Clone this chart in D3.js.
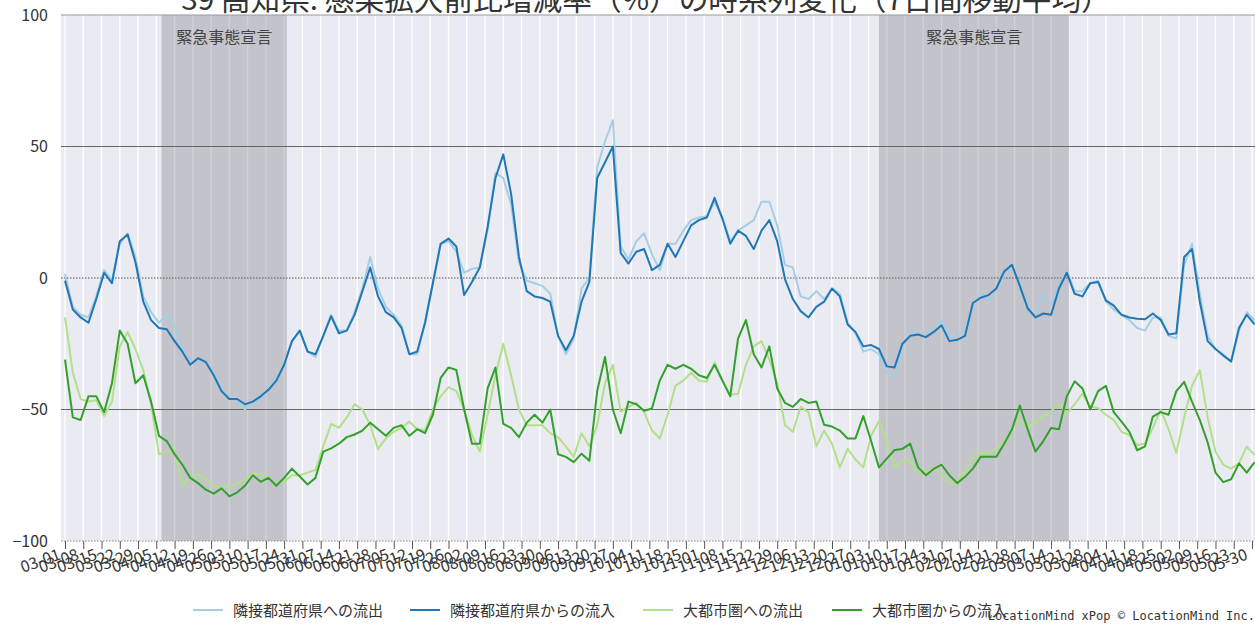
<!DOCTYPE html>
<html><head><meta charset="utf-8">
<script src="https://cdn.jsdelivr.net/npm/d3@7"></script>
<style>
body{margin:0;background:#fff;overflow:hidden}
svg{display:block;font-family:"Noto Sans CJK JP","Noto Sans",sans-serif}
</style>
</head><body>
<svg id="chart" width="1255" height="630"></svg>
<script>
// ---------------- data ----------------
const titleText = "39 高知県: 感染拡大前比増減率（%）の時系列変化（7日間移動平均）";
const firstDay = "2020-03-01";   // first sample, samples every 3 days
const sampleStepDays = 3;
const axisStart = "2020-03-01", axisEnd = "2021-05-30";
const yTicks = [100, 50, 0, -50, -100];
const emergencyStart = ["2020-04-07", "2021-01-07"];
const emergencyEnd = ["2020-05-25", "2021-03-21"];
const emergencyLabel = "緊急事態宣言";
const seriesNames = ["隣接都道府県への流出", "隣接都道府県からの流入", "大都市圏への流出", "大都市圏からの流入"];

const outToNeighbor = [1.5,-11,-14,-15,-7,3,-1,13,17,8,-7,-13,-17,-14,-18,-27,-32,-31,-32,-36,-42,-46,-46.5,-50,-47,-46,-41,-38,-33,-24,-20,-28,-30,-22,-14,-20,-20,-13,-4,8,-4,-11,-14,-18,-29,-29,-17,-2,13,14,10,2,3.5,4,18,40,38,28,6,-1,-2,-3,-6,-22,-29,-23,-4,0,42,52,60,12,7,14,17,9,3,13,13,18,22,23,23.5,29,23,14,18,20,22,29,29,20,5,4,-7,-8,-5,-8,-4,-6,-17,-21,-28,-27,-29,-36,-38,-26,-21,-20,-21,-19,-16,-22,-22,-19,-11,-6,-9,-4,1,4,-2,-13,-13,-6,-10,-3,3,-5,-5,-2,-1,-9,-12,-14,-16,-19,-20,-15,-15,-22,-23,5,13,-6,-22,-27,-29,-32,-20,-13,-16];
const inFromNeighbor = [-1,-12,-15,-17,-8,2,-2,14,16.5,6,-9,-16,-19,-19.5,-24,-28,-33,-30.5,-32,-37,-43,-46,-46,-48,-47,-45,-42.5,-39,-33,-24,-20,-28,-29,-22,-14.5,-21,-20,-14,-5,4,-7,-13,-15,-19,-29,-28,-17,-2,13,15,12,-6.5,-1.5,4,19.5,38,47,32,8,-5,-7,-7.6,-9,-22,-27.5,-22,-9,-1.5,38,44,50,9.5,5.5,10,11,3,5,13,8,14,20,22,23,30.5,22.5,13,18,16,11,18,22,14,-0.5,-8,-12.6,-15,-11,-9,-4,-7,-17.7,-20.5,-26,-25.5,-27,-33.6,-34,-25,-22,-21.5,-22.5,-20.5,-18,-24,-23.5,-22,-9.5,-7.5,-6.5,-4,2.5,5,-3,-11.5,-15,-13.5,-14,-4,2,-6,-7,-2,-1.5,-8.5,-10.5,-14,-15,-15.5,-15.7,-13.5,-16,-21.5,-21,8,11,-9,-24,-27,-29.5,-31.7,-19,-14,-17.6];
const outToMetro = [-15,-36,-46,-47,-46.5,-52.5,-47,-26,-20.5,-27,-35,-48,-67,-66,-66,-79,-76,-74.5,-76.5,-79,-79.4,-79.4,-78,-76.5,-74.5,-74.5,-76.5,-78,-77.5,-75,-75,-74,-73,-64,-55.5,-57,-53,-48,-50,-56,-65,-61,-58.5,-57,-54.6,-57.5,-58,-50,-45,-41.5,-43,-50,-59.7,-66,-52,-37,-25,-37,-50,-56,-56,-56,-59,-60.5,-64,-68,-59,-64,-56,-40,-33,-50.8,-49,-47.5,-51,-58,-61,-52,-41,-39,-36,-39,-39.5,-32,-39,-44.5,-44,-33,-26,-24,-31,-40,-56,-58.5,-49,-51,-64,-58,-63,-72,-65,-69,-72,-60,-54.5,-62,-72,-69.5,-69.5,-74,-74,-72.5,-74.7,-78,-77.5,-73.5,-68,-66.5,-66.7,-64.8,-62.5,-57,-54,-57,-55,-52.7,-50.5,-48,-51.5,-48,-44,-48.8,-49.5,-52,-54,-58.5,-59.7,-63.5,-63,-57,-50,-57.5,-66.5,-53,-41,-35,-53,-66,-71,-72.5,-70.5,-64,-67.3];
const inFromMetro = [-31,-53,-54,-45,-45,-51,-40,-20,-25,-40,-37,-47,-60,-62,-67,-71,-76,-78,-80.5,-82,-80,-83,-81.5,-79,-75,-77.5,-76,-79,-76,-72.5,-75.5,-78.5,-76,-66,-64.8,-63,-60.5,-59.5,-58,-55,-57.5,-60,-57,-56,-60,-57.5,-59,-52,-38,-34,-35,-50,-63,-63,-42,-34,-55.5,-57,-60.5,-55,-52,-55,-50,-67,-68,-70,-66.8,-69.5,-43,-30,-50,-59,-47,-48,-50.5,-49.6,-39,-33,-34.5,-33,-34.5,-37,-38,-33,-39,-45,-23,-16,-29,-34,-26,-42,-47.5,-49,-46,-47.5,-47,-55.8,-56.5,-58,-61,-61,-52.5,-62,-72,-68.7,-65.4,-65,-63,-72,-75,-72.6,-71,-75,-78,-75.6,-72.5,-68,-68,-68,-63,-57.5,-48.5,-57.5,-66,-62,-57,-57.5,-45,-39.3,-42,-50,-43,-41,-51,-54.6,-58.5,-65.5,-64,-52.7,-51,-52,-43,-39.5,-47,-54,-62.5,-74,-77.6,-76.5,-70.5,-74,-70];
const seriesValues = [outToNeighbor, inFromNeighbor, outToMetro, inFromMetro];
const seriesColors = ["#a6cee3", "#1f78b4", "#b2df8a", "#33a02c"];
const attribution = "LocationMind xPop © LocationMind Inc.";

// ---------------- chart ----------------
const parse = d3.timeParse("%Y-%m-%d");
const svg = d3.select("#chart");
const t0 = parse(firstDay);
const dates = seriesValues[0].map((_, i) => d3.timeDay.offset(t0, i * sampleStepDays));

const x = d3.scaleTime().domain([parse(axisStart), parse(axisEnd)]).range([65, 1252]);
const y = d3.scaleLinear().domain([-100, 100]).range([541, 15]);

const plotL = 61, plotR = 1262;
svg.append("rect").attr("x", plotL).attr("y", y(100)).attr("width", plotR - plotL)
  .attr("height", y(-100) - y(100)).attr("fill", "#eaeaf2");

const weekTicks = d3.timeDay.range(parse(axisStart), d3.timeDay.offset(parse(axisEnd), 1), 7);

svg.append("g").selectAll("line").data(weekTicks).join("line")
  .attr("x1", d => x(d)).attr("x2", d => x(d))
  .attr("y1", y(100)).attr("y2", y(-100))
  .attr("stroke", "#fff").attr("stroke-width", 1.3);

const bands = svg.append("g");
emergencyStart.forEach((s, i) => {
  const a = x(parse(s)), b = x(parse(emergencyEnd[i]));
  bands.append("rect").attr("x", a).attr("y", y(100)).attr("width", b - a)
    .attr("height", y(-100) - y(100)).attr("fill", "rgb(128,128,136)").attr("fill-opacity", 0.36);
  bands.append("text").attr("x", (a + b) / 2).attr("y", 43).attr("text-anchor", "middle")
    .attr("font-size", 16).attr("fill", "#444").text(emergencyLabel);
});

const hl = svg.append("g");
hl.append("line").attr("x1", plotL).attr("x2", plotR).attr("y1", y(100)).attr("y2", y(100))
  .attr("stroke", "#999").attr("stroke-width", 1);
[50, -50].forEach(v => hl.append("line").attr("x1", plotL).attr("x2", plotR)
  .attr("y1", y(v)).attr("y2", y(v)).attr("stroke", "#666").attr("stroke-width", 1.2));
hl.append("line").attr("x1", plotL).attr("x2", plotR).attr("y1", y(0)).attr("y2", y(0))
  .attr("stroke", "#555").attr("stroke-width", 1).attr("stroke-dasharray", "1.5,1.5");
hl.append("line").attr("x1", plotL).attr("x2", plotR).attr("y1", y(-100)).attr("y2", y(-100))
  .attr("stroke", "#888").attr("stroke-width", 1).attr("stroke-dasharray", "1.5,1.5");

const line = d3.line().x((d, i) => x(dates[i])).y(d => y(d));
seriesValues.forEach((vals, k) => {
  svg.append("path").datum(vals).attr("d", line).attr("fill", "none")
    .attr("stroke", seriesColors[k]).attr("stroke-width", 2).attr("stroke-linejoin", "round");
});

const fmt = d3.format("d");
svg.append("g").selectAll("text").data(yTicks).join("text")
  .attr("x", 48).attr("y", d => y(d)).attr("dy", "0.35em").attr("text-anchor", "end")
  .attr("font-size", 16).attr("fill", "#333").text(d => fmt(d));

const xAxis = d3.axisBottom(x).tickValues(weekTicks).tickFormat(d3.timeFormat("%m-%d"))
  .tickSize(8).tickPadding(2);
const gx = svg.append("g").attr("transform", `translate(0,${y(-100)})`).call(xAxis);
gx.select(".domain").remove();
gx.selectAll(".tick line").attr("stroke", "#555");
gx.selectAll(".tick text").attr("font-size", 16).attr("fill", "#333")
  .attr("font-family", "'Noto Sans CJK JP',sans-serif")
  .attr("text-anchor", "end").attr("x", 0).attr("y", 0).attr("dy", 0)
  .attr("transform", "translate(-4,18) rotate(-20)");

svg.append("text").attr("x", 646).attr("y", 10).attr("text-anchor", "middle")
  .attr("font-size", 29.7).attr("fill", "#333").text(titleText);

const legX = [193, 410, 643, 832];
const leg = svg.append("g");
seriesNames.forEach((n, k) => {
  leg.append("line").attr("x1", legX[k]).attr("x2", legX[k] + 30).attr("y1", 610).attr("y2", 610)
    .attr("stroke", seriesColors[k]).attr("stroke-width", 2);
  leg.append("text").attr("x", legX[k] + 40).attr("y", 616).attr("font-size", 15)
    .attr("fill", "#333").text(n);
});

svg.append("text").attr("x", 1255).attr("y", 620).attr("text-anchor", "end")
  .attr("font-family", "'DejaVu Sans Mono',monospace").attr("font-size", 12)
  .attr("fill", "#333").text(attribution);
</script>
</body></html>
